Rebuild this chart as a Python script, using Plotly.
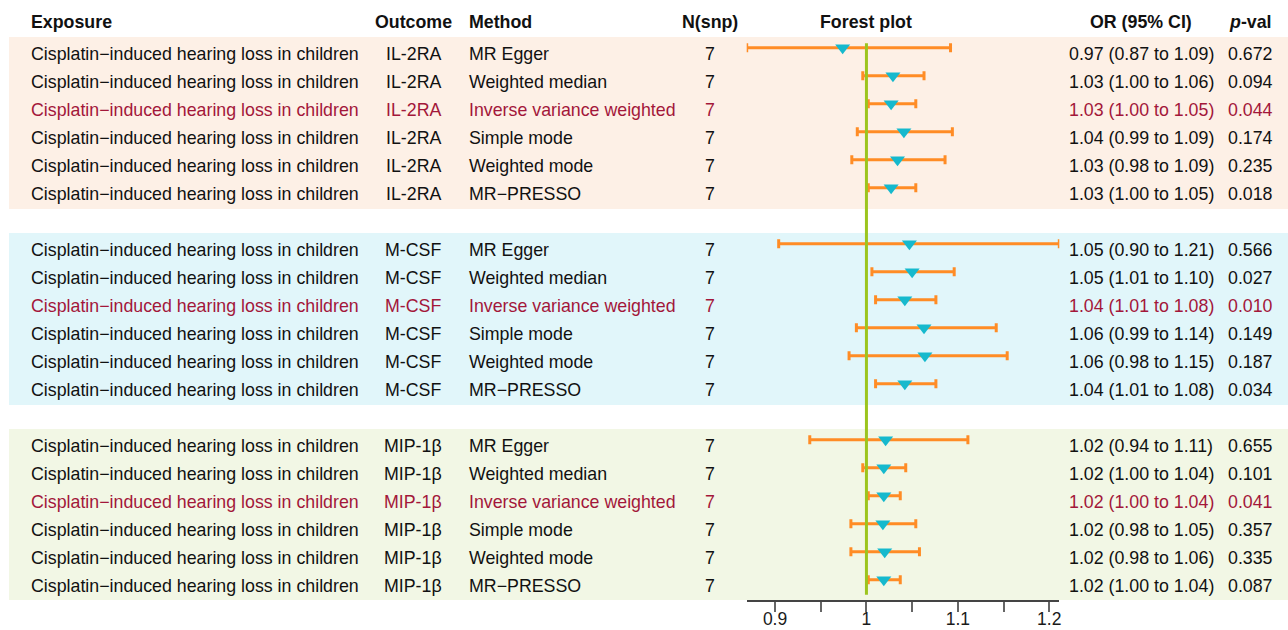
import plotly.graph_objects as go

# ---- data -------------------------------------------------------------
exposure = "Cisplatin\u2212induced hearing loss in children"
outcomes = ["IL-2RA", "M-CSF", "MIP-1\u03b2"]
methods = ["MR Egger", "Weighted median", "Inverse variance weighted",
           "Simple mode", "Weighted mode", "MR\u2212PRESSO"]
highlight_method = "Inverse variance weighted"
n_snp = [[7, 7, 7, 7, 7, 7],
         [7, 7, 7, 7, 7, 7],
         [7, 7, 7, 7, 7, 7]]
odds_ratio = [[0.974, 1.029, 1.027, 1.041, 1.034, 1.027],
              [1.047, 1.050, 1.042, 1.063, 1.064, 1.042],
              [1.021, 1.019, 1.019, 1.018, 1.020, 1.019]]
ci_low = [[0.869, 0.996, 1.002, 0.990, 0.984, 1.002],
          [0.904, 1.006, 1.010, 0.989, 0.981, 1.010],
          [0.938, 0.996, 1.002, 0.983, 0.983, 1.002]]
ci_high = [[1.092, 1.063, 1.054, 1.094, 1.086, 1.054],
           [1.211, 1.096, 1.076, 1.142, 1.154, 1.076],
           [1.111, 1.043, 1.037, 1.054, 1.058, 1.037]]
p_value = [[0.672, 0.094, 0.044, 0.174, 0.235, 0.018],
           [0.566, 0.027, 0.010, 0.149, 0.187, 0.034],
           [0.655, 0.101, 0.041, 0.357, 0.335, 0.087]]
x_ticks = [0.9, 0.95, 1.0, 1.05, 1.1, 1.15, 1.2]
x_tick_labels = ["0.9", "", "1", "", "1.1", "", "1.2"]
ref_or = 1.0

# ---- style ------------------------------------------------------------
W, H = 1288, 630
FONT = "Liberation Sans, Arial, sans-serif"
FS = 17.8
BLACK = "#111111"
RED = "#A3173A"
ORANGE = "#FF8C25"
CYAN = "#16B9CD"
GREEN = "#9CC51E"
band_colors = ["#FDF0E6", "#E1F6FA", "#F2F7E5"]

# column anchors in pixels: (x, xanchor)
col_exposure = (29, "left")
col_outcome = (413, "center")
col_method = (467, "left")
col_nsnp = (710, "center")
col_forest = (866, "center")
col_or = (1141, "center")
col_p = (1250, "center")

GAP = 1                       # blank row between outcome groups
rows_per_group = len(methods)
text_shift = 0.107            # text sits slightly below the CI line
mark_shift = -0.118

fig = go.Figure()
annotations = []
shapes = []


def add_text(col, y, text, color=BLACK, bold=False, size=FS):
    x, anchor = col
    if bold:
        text = f"<b>{text}</b>"
    annotations.append(dict(
        x=x / W, xref="paper", y=y, yref="y", text=text, showarrow=False,
        xanchor=anchor, yanchor="middle",
        font=dict(family=FONT, size=size, color=color)))


# headers
hy = -1.018
add_text(col_exposure, hy, "Exposure", bold=True)
add_text(col_outcome, hy, "Outcome", bold=True)
add_text(col_method, hy, "Method", bold=True)
add_text(col_nsnp, hy, "N(snp)", bold=True)
add_text(col_forest, hy, "Forest plot", bold=True)
add_text(col_or, hy, "OR (95% CI)", bold=True)
add_text(col_p, hy, "<i>p</i>-val", bold=True)

ys, xs, lo_err, hi_err = [], [], [], []
for g, outcome in enumerate(outcomes):
    start = g * (rows_per_group + GAP)
    end = start + rows_per_group - 1
    shapes.append(dict(type="rect", xref="paper", yref="y",
                       x0=9 / W, x1=1, y0=start - 0.5, y1=end + 0.64,
                       fillcolor=band_colors[g], line=dict(width=0),
                       layer="below"))
    for r, method in enumerate(methods):
        k = start + r
        color = RED if method == highlight_method else BLACK
        ty = k + text_shift
        orv, lo, hi = odds_ratio[g][r], ci_low[g][r], ci_high[g][r]
        add_text(col_exposure, ty, exposure, color)
        add_text(col_outcome, ty, outcome, color)
        add_text(col_method, ty, method, color)
        add_text(col_nsnp, ty, str(n_snp[g][r]), color)
        add_text(col_or, ty, f"{orv:.2f} ({lo:.2f} to {hi:.2f})", color)
        add_text(col_p, ty, f"{p_value[g][r]:.3f}", color)
        ys.append(k + mark_shift)
        xs.append(orv)
        lo_err.append(orv - lo)
        hi_err.append(hi - orv)

last_row = (len(outcomes) - 1) * (rows_per_group + GAP) + rows_per_group - 1

# confidence intervals
fig.add_trace(go.Scatter(
    x=xs, y=ys, mode="markers",
    marker=dict(size=1, color="rgba(0,0,0,0)"),
    error_x=dict(type="data", symmetric=False, array=hi_err,
                 arrayminus=lo_err, color=ORANGE, thickness=3, width=4.5),
    hoverinfo="skip", showlegend=False))

# reference line at OR = 1
fig.add_trace(go.Scatter(
    x=[ref_or, ref_or], y=[-0.275, last_row + 0.42], mode="lines",
    line=dict(color=GREEN, width=3), hoverinfo="skip", showlegend=False))

# point estimates
fig.add_trace(go.Scatter(
    x=xs, y=ys, mode="markers",
    marker=dict(symbol="triangle-down", size=13, color=CYAN,
                line=dict(width=0)),
    showlegend=False))

all_lo = [v for grp in ci_low for v in grp]
all_hi = [v for grp in ci_high for v in grp]

fig.update_layout(
    width=W, height=H, autosize=False,
    margin=dict(l=0, r=0, t=0, b=0, pad=0),
    paper_bgcolor="white", plot_bgcolor="rgba(0,0,0,0)",
    annotations=annotations, shapes=shapes,
    xaxis=dict(domain=[746.7 / W, 1059.3 / W],
               range=[min(all_lo), max(all_hi)], automargin=False,
               tickmode="array", tickvals=x_ticks, ticktext=x_tick_labels,
               ticks="outside", ticklen=10, tickwidth=1.5, tickcolor="#666666",
               ticklabelstandoff=-8,
               showline=True, linecolor="#444444", linewidth=1.5,
               showgrid=False, zeroline=False,
               tickfont=dict(family=FONT, size=17.5, color="#1a1a1a")),
    yaxis=dict(domain=[30 / H, 1], range=[19.607, -1.821], visible=False,
               automargin=False),
)

fig.write_html("out.html")
